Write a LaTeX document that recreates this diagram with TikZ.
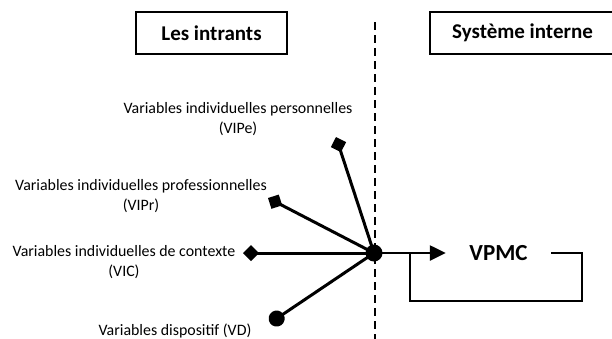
\documentclass[tikz,border=0pt]{standalone}
\usepackage{fontspec}
\setmainfont{Carlito}
\usetikzlibrary{arrows.meta}
\tikzset{
  smalltxt/.style={font=\fontsize{15.9}{20}\selectfont, align=center, inner sep=0pt},
  headfont/.style={font=\fontsize{21}{25}\selectfont\bfseries, inner sep=0pt},
  headbox/.style={draw, line width=1.6pt, headfont},
  spoke/.style={line width=3pt},
  dtip/.style={-{Diamond[length=16pt,width=16pt]}},
  ctip/.style={-{Circle[length=16pt]}},
  divider/.style={line width=1.6pt, dash pattern=on 8pt off 5pt},
}
\begin{document}
\begin{tikzpicture}[x=1pt,y=-1pt]
\useasboundingbox (0,0) rectangle (612,338);
% headers
\node[headbox, minimum width=151pt, minimum height=42pt] (intr) at (211.5,33) {Les intrants};
\coordinate (s1) at (614,12);
\coordinate (s2) at (430,12);
\coordinate (s3) at (430,54);
\coordinate (s4) at (614,54);
\draw[line width=1.6pt] (s1) -- (s2) -- (s3) -- (s4);
\node[headfont] (sys) at (522.5,33) {Système interne};
% divider
\coordinate (dtop) at (375,22);
\coordinate (dbot) at (375,340);
\draw[divider] (dtop) -- (dbot);
% hub
\node[circle, fill, inner sep=0pt, minimum size=17pt] (hub) at (374,253) {};
% spoke ends
\coordinate (pe) at (336,137);
\coordinate (pr) at (268,198);
\coordinate (ic) at (243,253);
\coordinate (vd) at (270,323);
\draw[spoke, dtip] (hub.center) -- (pe);
\draw[spoke, dtip] (hub.center) -- (pr);
\draw[spoke, dtip] (hub.center) -- (ic);
\draw[spoke, ctip] (hub.center) -- (vd);
% labels
\node[smalltxt] (lpe) at (238,119) {Variables individuelles personnelles\\(VIPe)};
\node[smalltxt] (lpr) at (141,196) {Variables individuelles professionnelles\\(VIPr)};
\node[smalltxt] (lic) at (124,262) {Variables individuelles de contexte\\(VIC)};
\node[smalltxt] (lvd) at (175,331) {Variables dispositif (VD)};
% VPMC
\node[font=\fontsize{23}{27}\selectfont\bfseries, inner ysep=0pt, inner xsep=0pt, minimum width=105pt] (vpmc) at (498.5,253) {VPMC};
\draw[line width=2.4pt, -{Triangle[length=16pt,width=15pt]}] (hub.center) -- (vpmc.west);
\coordinate (lp1) at (582,301);
\coordinate (lp2) at (410,301);
\coordinate (lp3) at (410,253);
\draw[line width=2pt] (vpmc.east) -| (lp1) -- (lp2) -- (lp3);
\end{tikzpicture}
\end{document}
